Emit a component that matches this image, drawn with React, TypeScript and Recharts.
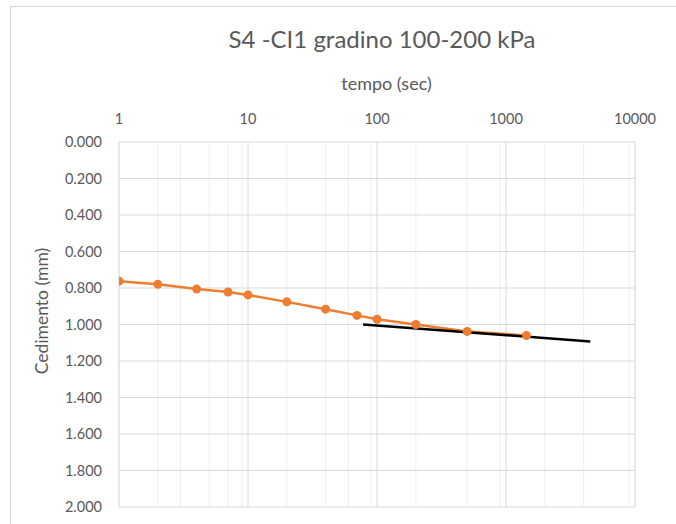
import { LineChart, Line, XAxis, YAxis, CartesianGrid } from "recharts";

const ORANGE = "#ED7D31", TXT = "#595959", GRID = "#d9d9d9", MINOR = "#efefef";

// tempo (sec) vs cedimento (mm)
const TIME = [1, 2, 4, 7, 10, 20, 40, 70, 100, 200, 500, 1440];
const SETTLE = [0.763, 0.78, 0.806, 0.822, 0.838, 0.876, 0.916, 0.95, 0.971, 1.0, 1.038, 1.06];
// tangent line (secondary consolidation)
const FIT_T = [78, 4500];
const FIT_Y = [1.0, 1.093];

const X_TICKS = [1, 10, 100, 1000, 10000];
const X_MINOR = [2, 3, 4, 5, 6, 7, 8, 9, 20, 30, 40, 50, 60, 70, 80, 90, 200, 300, 400, 500, 600, 700, 800, 900, 2000, 3000, 4000, 5000, 6000, 7000, 8000, 9000];
const Y_TICKS = [0, 0.2, 0.4, 0.6, 0.8, 1.0, 1.2, 1.4, 1.6, 1.8, 2.0];

const curve = TIME.map((t, i) => ({ t, y: SETTLE[i] }));
const fit = FIT_T.map((t, i) => ({ t, y: FIT_Y[i] }));

const FONT = "Lato, 'Open Sans', sans-serif";

export default function App() {
  return (
    <div style={{ position: "absolute", left: 0, top: 0, width: 676, height: 524, background: "#fff", fontFamily: FONT, overflow: "hidden" }}>
      <div style={{ position: "absolute", left: 10, top: 6, right: 0, bottom: 0, borderTop: "1px solid #d6d6d6", borderLeft: "1px solid #d6d6d6" }} />
      <div style={{ position: "absolute", left: 0, width: 764, top: 24, textAlign: "center", fontSize: 24, color: TXT }}>S4 -CI1 gradino 100-200 kPa</div>
      <div style={{ position: "absolute", left: 0, width: 773, top: 72, textAlign: "center", fontSize: 18, color: TXT }}>tempo (sec)</div>
      <div style={{ position: "absolute", left: 41, top: 311, transform: "translate(-50%, -50%) rotate(-90deg)", whiteSpace: "nowrap", fontSize: 17.5, color: TXT }}>Cedimento (mm)</div>
      <div style={{ position: "absolute", left: 0, top: 0 }}>
        <LineChart width={676} height={524} margin={{ top: 112, right: 41, bottom: 17, left: 59 }}>
          <XAxis xAxisId="minor" type="number" scale="log" domain={[1, 10000]} ticks={X_MINOR} hide allowDataOverflow dataKey="t" />
          <CartesianGrid xAxisId="minor" stroke={MINOR} strokeWidth={1} horizontal={false} />
          <CartesianGrid stroke={GRID} strokeWidth={1} />
          <XAxis type="number" scale="log" domain={[1, 10000]} ticks={X_TICKS} orientation="top" dataKey="t" allowDataOverflow
            height={30} axisLine={false} tickLine={false} tickSize={6} tickMargin={12}
            tick={{ fill: TXT, fontSize: 14.5, fontFamily: FONT }} />
          <YAxis type="number" domain={[0, 2]} ticks={Y_TICKS} reversed width={60} axisLine={false} tickLine={false}
            tickSize={6} tickMargin={11} tickFormatter={(v: number) => v.toFixed(3)}
            tick={{ fill: TXT, fontSize: 14.5, fontFamily: FONT }} />
          <Line data={curve} dataKey="y" stroke={ORANGE} strokeWidth={2.5} isAnimationActive={false}
            dot={{ r: 4.5, fill: ORANGE, stroke: ORANGE, strokeWidth: 0 }} />
          <Line data={fit} dataKey="y" stroke="#000" strokeWidth={2.5} dot={false} isAnimationActive={false} />
        </LineChart>
      </div>
    </div>
  );
}
